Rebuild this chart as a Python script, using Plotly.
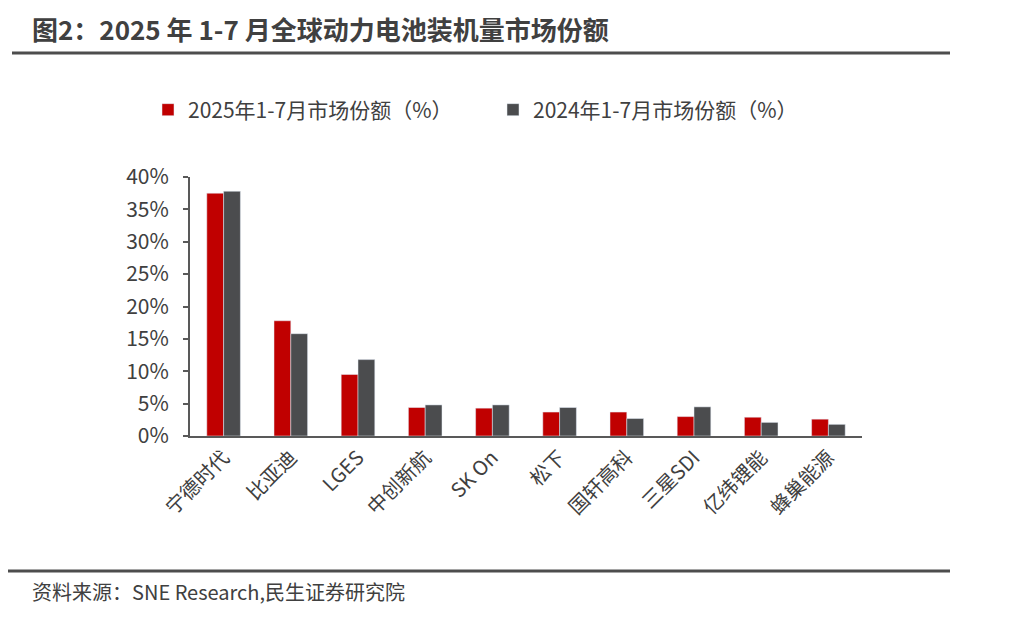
import plotly.graph_objects as go

categories = ["宁德时代", "比亚迪", "LGES", "中创新航", "SK On", "松下", "国轩高科", "三星SDI", "亿纬锂能", "蜂巢能源"]
share_2025 = [37.5, 17.8, 9.5, 4.4, 4.3, 3.7, 3.7, 3.0, 2.9, 2.6]
share_2024 = [37.8, 15.8, 11.8, 4.8, 4.8, 4.4, 2.7, 4.5, 2.1, 1.8]
y_ticks = [0, 5, 10, 15, 20, 25, 30, 35, 40]
y_tick_labels = [f"{v}%" for v in y_ticks]
name_2025 = "2025年1-7月市场份额（%）"
name_2024 = "2024年1-7月市场份额（%）"
title_text = "图2：2025 年 1-7 月全球动力电池装机量市场份额"
source_text = "资料来源：SNE Research,民生证券研究院"

FONT = "Noto Sans CJK SC, Noto Sans, sans-serif"
TXT = "#404040"
AX = "#595959"

OFF = 8  # page body margin
W, H = 1022, 617
L = 190 - OFF
T = 177 - OFF
R = W - (862 - OFF)
B = H - (436 - OFF)
pw, ph = W - L - R, H - T - B

def px(x):
    return (x - OFF - L) / pw

def py(y):
    return (H - B - (y - OFF)) / ph

fig = go.Figure()
fig.add_trace(go.Bar(x=categories, y=share_2025, name=name_2025, marker_color="#C00000"))
fig.add_trace(go.Bar(x=categories, y=share_2024, name=name_2024, marker_color="#4B4C4E"))

fig.update_layout(
    width=W, height=H,
    margin=dict(l=L, r=R, t=T, b=B),
    paper_bgcolor="white", plot_bgcolor="white",
    font=dict(family=FONT, color=TXT, size=20),
    barmode="group", bargap=0.5, bargroupgap=0,
    legend=dict(orientation="h", x=px(148), xanchor="left", y=py(110), yanchor="middle",
                font=dict(size=21, color=TXT), entrywidth=300, entrywidthmode="pixels",
                bgcolor="rgba(0,0,0,0)", traceorder="normal"),
    showlegend=True,
)
fig.update_yaxes(range=[0, 40], tickmode="array", tickvals=y_ticks, ticktext=y_tick_labels,
                 showgrid=False, showline=True, linecolor=AX, linewidth=2, ticks="outside",
                 ticklen=5, tickcolor=AX, tickwidth=2, zeroline=False, ticklabelstandoff=10,
                 tickfont=dict(size=21, color=TXT))
fig.update_xaxes(showline=True, linecolor=AX, linewidth=2, ticks="", tickangle=-45,
                 showgrid=False, tickfont=dict(size=20, color=TXT))

fig.add_annotation(text="<b>" + title_text + "</b>", xref="paper", yref="paper", x=px(30), y=py(28),
                   xanchor="left", yanchor="middle", showarrow=False,
                   font=dict(family=FONT, size=26, color=TXT))
fig.add_shape(type="line", xref="paper", yref="paper", x0=px(12), x1=px(950), y0=py(53), y1=py(53),
              line=dict(color="#4D4D4D", width=3))
fig.add_shape(type="line", xref="paper", yref="paper", x0=px(8), x1=px(950), y0=py(571), y1=py(571),
              line=dict(color="#4D4D4D", width=3))
fig.add_annotation(text=source_text, xref="paper", yref="paper", x=px(30), y=py(591),
                   xanchor="left", yanchor="middle", showarrow=False,
                   font=dict(family=FONT, size=20, color=TXT))

fig.write_html("out.html")
